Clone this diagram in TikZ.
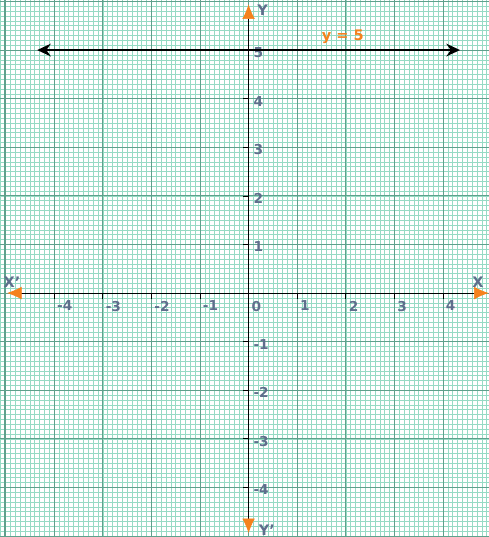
\documentclass[tikz,border=0pt]{standalone}
\usepackage{fontspec}
\setmainfont{DejaVu Sans}
\usepackage{xcolor}
\usepackage{tikz}
\usetikzlibrary{arrows,arrows.meta,positioning,calc}
\definecolor{minorgreen}{RGB}{150,218,196}
\definecolor{majorgreen}{RGB}{95,160,140}
\definecolor{labelgray}{RGB}{95,110,140}
\definecolor{axisorange}{RGB}{245,130,30}

\begin{document}
\begin{tikzpicture}[x = 1cm, y = 1cm,
    ticklabel/.style = {font = \fontsize{8}{9}\selectfont\bfseries, text = labelgray, inner sep = 1pt},
    axisname/.style = {font = \fontsize{8.5}{9}\selectfont\bfseries, text = labelgray, inner sep = 1pt},
    axisline/.style = {-{Latex[length=3mm,width=2.6mm,color=axisorange]}, thin, black},
    graphline/.style = {{Stealth[length=2.8mm,width=2.6mm]}-{Stealth[length=2.8mm,width=2.6mm]}, very thick, black}]
    \useasboundingbox (-5.115,-5.02) rectangle (4.946,6.03);
    % graph paper
    \fill[white] (-5.115,-5.02) rectangle (4.946,6.03);
    \draw[minorgreen, line width = .3pt] (-5.115,-5.02) grid[step = 0.1] (4.946,6.03);
    \draw[majorgreen, line width = .5pt] (-5.115,-5.02) grid[step = 1] (4.946,6.03);
    \draw[majorgreen, line width = .6pt] (-5.02,-5.02) -- (-5.02,6.03);
    % axes
    \coordinate (o) at (0,0);
    \coordinate (xl) at (-4.97,0);
    \coordinate (xr) at (4.94,0);
    \coordinate (yt) at (0,5.94);
    \coordinate (yb) at (0,-4.94);
    \draw[axisline] (o) -- (xr);
    \draw[axisline] (o) -- (xl);
    \draw[axisline] (o) -- (yt);
    \draw[axisline] (o) -- (yb);
    \node[axisname, anchor = south west] (xlname) at (-5.08,0.07) {X'};
    \node[axisname, anchor = south east] (xrname) at (4.88,0.07) {X};
    \node[axisname, anchor = west] (ytname) at (0.14,5.82) {Y};
    \node[axisname, anchor = west] (ybname) at (0.17,-4.88) {Y'};
    % ticks
    \foreach \i in {-4,...,4} {
        \draw[black, thin] (\i,0) -- (\i,-0.12);
        \node[ticklabel, anchor = north west] at (\i+0.02,-0.12) {\i};
    }
    \foreach \j in {-4,-3,-2,-1,1,2,3,4,5} {
        \draw[black, thin] (0,\j) -- (-0.12,\j);
        \node[ticklabel, anchor = west] at (0.06,\j-0.05) {\j};
    }
    % the line y = 5
    \coordinate (la) at (-4.35,5);
    \coordinate (lb) at (4.35,5);
    \draw[graphline] (la) -- (lb);
    \node[font = \fontsize{8.5}{9}\selectfont\bfseries, text = axisorange] (eq) at (1.94,5.27) {y = 5};
\end{tikzpicture}
\end{document}
